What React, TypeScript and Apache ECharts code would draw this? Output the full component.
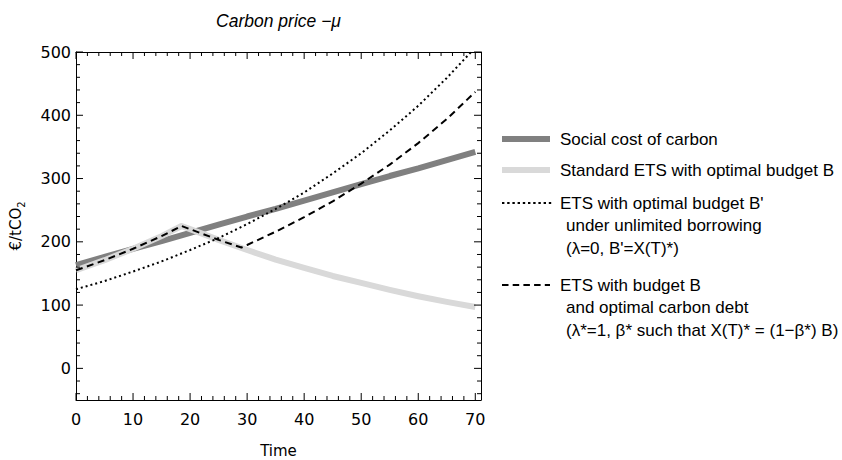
import React, { useEffect, useRef } from "react";
import * as echarts from "echarts";

// ---- data ----
const years = [0, 5, 10, 15, 20, 25, 30, 35, 40, 45, 50, 55, 60, 65, 70];
const socialCost = [163, 176, 189, 201, 214, 227, 240, 252, 265, 278, 291, 304, 316, 329, 342];
const borrowing = [125, 138, 153, 169, 187, 206, 228, 252, 278, 308, 340, 376, 415, 459, 507];

const etsYears = [0, 5, 10, 15, 18.5, 20, 25, 30, 35, 40, 45, 50, 55, 60, 65, 70];
const standardEts = [155, 171, 189, 209, 225, 220, 203, 187, 172, 159, 146, 135, 124, 114, 105, 97];

const debtYears = [0, 5, 10, 15, 18.5, 20, 25, 29, 30, 35, 40, 45, 50, 55, 60, 65, 70];
const carbonDebt = [155, 171, 189, 209, 225, 220, 203, 191, 195, 216, 239, 264, 292, 322, 356, 394, 437];

const xMajorTicks = [0, 10, 20, 30, 40, 50, 60, 70];
const xMinorTicks = [2, 4, 6, 8, 12, 14, 16, 18, 22, 24, 26, 28, 32, 34, 36, 38, 42, 44, 46, 48, 52, 54, 56, 58, 62, 64, 66, 68];
const yMajorTicks = [0, 100, 200, 300, 400, 500];
const yMinorTicks = [-40, -20, 20, 40, 60, 80, 120, 140, 160, 180, 220, 240, 260, 280, 320, 340, 360, 380, 420, 440, 460, 480];

const X_MIN = 0;
const X_MAX = 71;
const Y_MIN = -50;
const Y_MAX = 500;

const titleText = "Carbon price \u2212\u03bc";
const xName = "Time";
const legendLabels = [
  ["Social cost of carbon"],
  ["Standard ETS with optimal budget B"],
  ["ETS with optimal budget B'", "under unlimited borrowing", "(\u03bb=0, B'=X(T)*)"],
  ["ETS with budget B", "and optimal carbon debt", "(\u03bb*=1, \u03b2* such that X(T)* = (1\u2212\u03b2*) B)"],
];

const zip = (xs: number[], ys: number[]) => xs.map((x, i) => [x, ys[i]]);

const TICK_FONT = "DejaVu Sans";
const TEXT_FONT = "Liberation Sans";
const MAJOR_LEN = 7;
const MINOR_LEN = 4;

export default function App() {
  const ref = useRef<HTMLDivElement>(null);

  useEffect(() => {
    if (!ref.current) return;
    const chart = echarts.init(ref.current, null, { renderer: "svg" });

    const tickStyle = { stroke: "#000", lineWidth: 1 };

    // frame ticks (inside, on all four sides) placed through the axes' scales
    const xTickData = [
      ...xMajorTicks.map((v) => [v, MAJOR_LEN]),
      ...xMinorTicks.map((v) => [v, MINOR_LEN]),
    ];
    const yTickData = [
      ...yMajorTicks.map((v) => [v, MAJOR_LEN]),
      ...yMinorTicks.map((v) => [v, MINOR_LEN]),
    ];

    const xTicksRender = (params: any, api: any) => {
      const v = api.value(0);
      const len = api.value(1);
      const b = api.coord([v, Y_MIN]);
      const t = api.coord([v, Y_MAX]);
      return {
        type: "group",
        children: [
          { type: "line", shape: { x1: b[0], y1: b[1], x2: b[0], y2: b[1] - len }, style: tickStyle },
          { type: "line", shape: { x1: t[0], y1: t[1], x2: t[0], y2: t[1] + len }, style: tickStyle },
        ],
      };
    };
    const yTicksRender = (params: any, api: any) => {
      const v = api.value(0);
      const len = api.value(1);
      const l = api.coord([X_MIN, v]);
      const r = api.coord([X_MAX, v]);
      return {
        type: "group",
        children: [
          { type: "line", shape: { x1: l[0], y1: l[1], x2: l[0] + len, y2: l[1] }, style: tickStyle },
          { type: "line", shape: { x1: r[0], y1: r[1], x2: r[0] - len, y2: r[1] }, style: tickStyle },
        ],
      };
    };

    // legend drawn as graphics
    const legendX1 = 502;
    const legendX2 = 550;
    const textX = 560;
    const contX = 566;
    const itemY = [139, 170, 203, 285];
    const lineGap = 22.8;
    const iconStyles = [
      { stroke: "#808080", lineWidth: 6 },
      { stroke: "#d9d9d9", lineWidth: 6 },
      { stroke: "#000", lineWidth: 2, lineDash: [2.4, 2.8] },
      { stroke: "#000", lineWidth: 2, lineDash: [6.5, 4.2] },
    ];
    const graphics: any[] = [];
    legendLabels.forEach((lines, i) => {
      graphics.push({
        type: "line",
        silent: true,
        shape: { x1: legendX1, y1: itemY[i], x2: i === 2 ? legendX2 + 3 : legendX2, y2: itemY[i] },
        style: iconStyles[i],
      });
      lines.forEach((t, j) => {
        graphics.push({
          type: "text",
          silent: true,
          x: j === 0 ? textX : contX,
          y: itemY[i] + j * lineGap,
          style: {
            text: t,
            fontSize: 17,
            fontFamily: TEXT_FONT,
            fill: "#000",
            verticalAlign: "middle",
            align: "left",
          },
        });
      });
    });

    const frameLine = { show: true, onZero: false, lineStyle: { color: "#000", width: 1 } };

    chart.setOption({
      animation: false,
      backgroundColor: "#fff",
      title: {
        text: titleText,
        left: 278.5,
        top: 12,
        padding: 0,
        textAlign: "center",
        textStyle: { fontSize: 17.5, fontStyle: "italic", fontWeight: "normal", fontFamily: TEXT_FONT, color: "#000" },
      },
      grid: { left: 76, right: 361, top: 52, bottom: 60, containLabel: false, outerBoundsMode: "none" },
      xAxis: [
        {
          type: "value",
          position: "bottom",
          min: X_MIN,
          max: X_MAX,
          axisLine: frameLine,
          axisTick: { show: false },
          axisLabel: {
            show: true,
            customValues: xMajorTicks,
            margin: 11,
            fontSize: 16,
            fontFamily: TICK_FONT,
            color: "#000",
          },
          splitLine: { show: false },
          name: xName,
          nameLocation: "middle",
          nameGap: 43,
          nameTextStyle: { fontSize: 15, fontFamily: TICK_FONT, color: "#000" },
        },
        {
          type: "value",
          position: "top",
          min: X_MIN,
          max: X_MAX,
          axisLine: frameLine,
          axisTick: { show: false },
          axisLabel: { show: false },
          splitLine: { show: false },
        },
      ],
      yAxis: [
        {
          type: "value",
          position: "left",
          min: Y_MIN,
          max: Y_MAX,
          axisLine: frameLine,
          axisTick: { show: false },
          axisLabel: {
            show: true,
            customValues: yMajorTicks,
            margin: 5,
            fontSize: 16,
            fontFamily: TICK_FONT,
            color: "#000",
          },
          splitLine: { show: false },
          name: "{a|\u20ac/tCO}{b|2}",
          nameLocation: "middle",
          nameGap: 50,
          nameTextStyle: {
            color: "#000",
            rich: {
              a: { fontSize: 15, fontFamily: TICK_FONT, color: "#000", lineHeight: 20 },
              b: { fontSize: 10, fontFamily: TICK_FONT, color: "#000", lineHeight: 12, verticalAlign: "bottom" },
            },
          },
        },
        {
          type: "value",
          position: "right",
          min: Y_MIN,
          max: Y_MAX,
          axisLine: frameLine,
          axisTick: { show: false },
          axisLabel: { show: false },
          splitLine: { show: false },
        },
      ],
      series: [
        {
          name: legendLabels[0][0],
          type: "line",
          data: zip(years, socialCost),
          symbol: "none",
          clip: true,
          lineStyle: { color: "#808080", width: 6 },
          itemStyle: { color: "#808080" },
        },
        {
          name: legendLabels[1][0],
          type: "line",
          data: zip(etsYears, standardEts),
          symbol: "none",
          clip: true,
          lineStyle: { color: "#d9d9d9", width: 6, join: "round" },
          itemStyle: { color: "#d9d9d9" },
        },
        {
          name: legendLabels[2][0],
          type: "line",
          data: zip(years, borrowing),
          symbol: "none",
          clip: true,
          lineStyle: { color: "#000", width: 2, type: [2, 3] },
          itemStyle: { color: "#000" },
        },
        {
          name: legendLabels[3][0],
          type: "line",
          data: zip(debtYears, carbonDebt),
          symbol: "none",
          clip: true,
          lineStyle: { color: "#000", width: 2, type: [7, 4.5] },
          itemStyle: { color: "#000" },
        },
        {
          name: "xFrameTicks",
          type: "custom",
          silent: true,
          clip: false,
          encode: { x: 0 },
          data: xTickData,
          renderItem: xTicksRender,
          z: 5,
        },
        {
          name: "yFrameTicks",
          type: "custom",
          silent: true,
          clip: false,
          encode: { y: 0 },
          data: yTickData,
          renderItem: yTicksRender,
          z: 5,
        },
      ],
      graphic: graphics,
    });

    return () => chart.dispose();
  }, []);

  return (
    <div
      ref={ref}
      style={{ position: "fixed", left: 0, top: 0, width: 842, height: 460, background: "#fff" }}
    />
  );
}
